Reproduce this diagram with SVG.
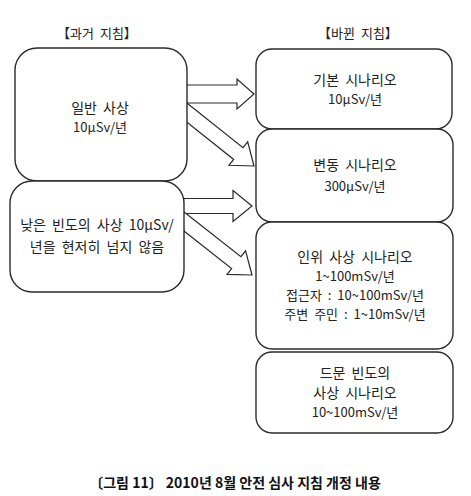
<svg xmlns="http://www.w3.org/2000/svg" width="471" height="496" viewBox="0 0 471 496">
<style>
.box{fill:#fff;stroke:#2a2a2a;stroke-width:1.4}
.arr{fill:#fff;stroke:#2a2a2a;stroke-width:1.2;stroke-linejoin:miter}
.t{font-family:"Noto Sans CJK KR","Noto Sans",sans-serif;font-size:14px;fill:#222;text-anchor:middle;word-spacing:3px}
.s{font-size:13px}
.cap{font-family:"Noto Sans CJK KR","Noto Sans",sans-serif;font-size:14px;font-weight:bold;fill:#111;text-anchor:middle}
</style>
<rect width="471" height="496" fill="#fff"/>
<g id="connectors">
<path class="arr" d="M175,85 H237 V79 L254,94 L237,109 V103 H175 Z"/>
<path class="arr" transform="translate(254,166) rotate(38.5)" d="M-105,-7.5 H-20 V-15 L0,0 L-20,15 V7.5 H-105 Z"/>
<path class="arr" d="M172,198.5 H233 V190.5 L252,206 L233,221.5 V213.5 H172 Z"/>
<path class="arr" transform="translate(252,275) rotate(38.2)" d="M-100,-7.5 H-20 V-15 L0,0 L-20,15 V7.5 H-100 Z"/>
</g>
<g id="title-left"><text class="t s" x="97" y="38">【과거 지침】</text></g>
<g id="title-right"><text class="t s" x="358" y="38">【바뀐 지침】</text></g>
<g id="past-general">
<rect class="box" x="15" y="48" width="172" height="133" rx="22"/>
<text class="t" x="100" y="113">일반 사상</text>
<text class="t s" x="100" y="132">10μSv/년</text>
</g>
<g id="past-low">
<rect class="box" x="10" y="181" width="174" height="111" rx="22"/>
<text class="t" x="97" y="230">낮은 빈도의 사상 10μSv/</text>
<text class="t" x="97" y="252">년을 현저히 넘지 않음</text>
</g>
<g id="new-basic">
<rect class="box" x="256" y="49" width="196" height="80" rx="16"/>
<text class="t" x="355" y="85">기본 시나리오</text>
<text class="t s" x="355" y="104">10μSv/년</text>
</g>
<g id="new-variation">
<rect class="box" x="256" y="129" width="197" height="93" rx="16"/>
<text class="t" x="355" y="170">변동 시나리오</text>
<text class="t s" x="355" y="191">300μSv/년</text>
</g>
<g id="new-human">
<rect class="box" x="256" y="222" width="197" height="127" rx="16"/>
<text class="t" x="355" y="262">인위 사상 시나리오</text>
<text class="t s" x="355" y="281">1~100mSv/년</text>
<text class="t s" x="355" y="300">접근자 : 10~100mSv/년</text>
<text class="t s" x="355" y="319">주변 주민 : 1~10mSv/년</text>
</g>
<g id="new-rare">
<rect class="box" x="256" y="352" width="197" height="81" rx="16"/>
<text class="t" x="355" y="378">드문 빈도의</text>
<text class="t" x="355" y="398">사상 시나리오</text>
<text class="t s" x="355" y="417">10~100mSv/년</text>
</g>
<g id="caption"><text class="cap" x="235" y="488">〔그림 11〕 2010년 8월 안전 심사 지침 개정 내용</text></g>
</svg>
